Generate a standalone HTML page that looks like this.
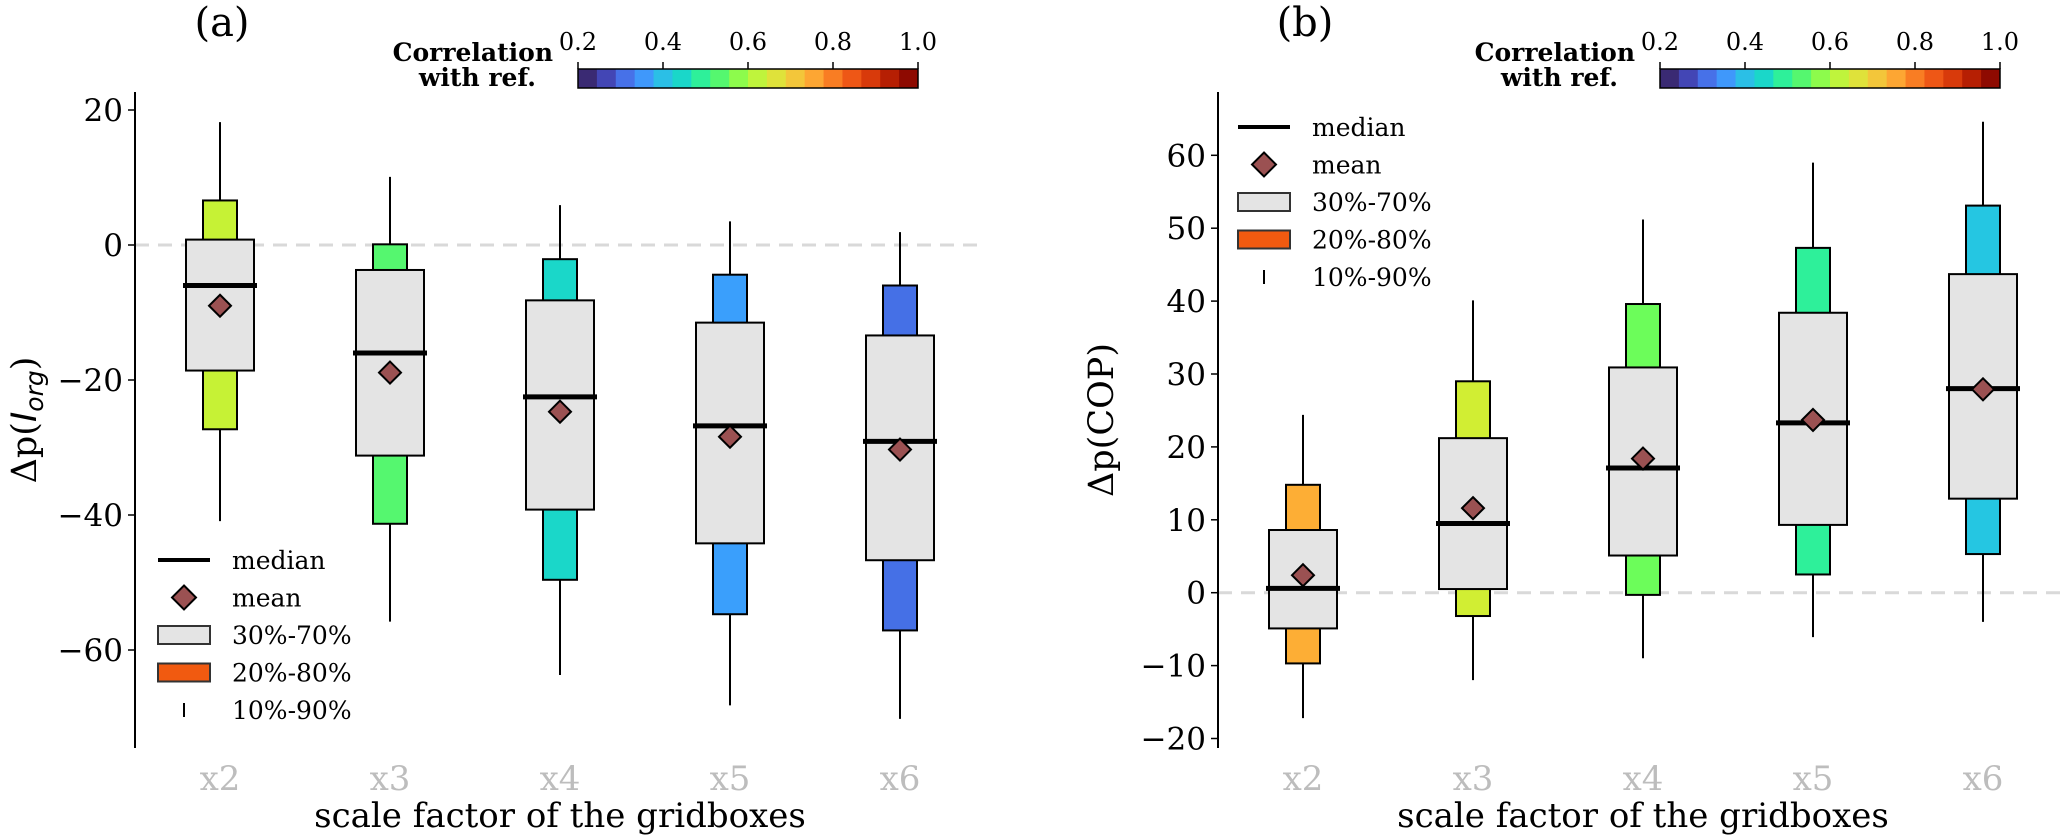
<!DOCTYPE html>
<html><head><meta charset="utf-8">
<style>
html,body{margin:0;padding:0;background:#fff;}
svg{display:block;font-family:"DejaVu Serif","Liberation Serif",serif;}
</style></head>
<body>
<svg id="chart" width="2067" height="839" viewBox="0 0 2067 839" xmlns="http://www.w3.org/2000/svg"></svg>
<script>
const categories = ["x2","x3","x4","x5","x6"];
// Panel (a): Δp(I_org)
const aWhiskLo = [-40.9,-55.8,-63.7,-68.2,-70.2];
const aOuterLo = [-27.3,-41.3,-49.6,-54.7,-57.1];
const aInnerLo = [-18.6,-31.2,-39.2,-44.2,-46.7];
const aMedian  = [-6.0,-16.0,-22.5,-26.8,-29.1];
const aMean    = [-9.0,-18.9,-24.7,-28.4,-30.3];
const aInnerHi = [0.8,-3.7,-8.2,-11.5,-13.4];
const aOuterHi = [6.6,0.1,-2.1,-4.4,-6.0];
const aWhiskHi = [18.2,10.1,5.9,3.5,1.9];
const aColors  = ["#c6f235","#55f76f","#1ad7c9","#3a9ffc","#4570e6"];
const aTicks   = [20,0,-20,-40,-60];
// Panel (b): Δp(COP)
const bWhiskLo = [-17.2,-12.0,-9.0,-6.1,-4.0];
const bOuterLo = [-9.7,-3.2,-0.3,2.5,5.3];
const bInnerLo = [-4.9,0.5,5.1,9.3,12.9];
const bMedian  = [0.6,9.5,17.1,23.3,28.0];
const bMean    = [2.4,11.6,18.4,23.7,27.9];
const bInnerHi = [8.6,21.2,30.9,38.4,43.7];
const bOuterHi = [14.8,29.0,39.6,47.3,53.1];
const bWhiskHi = [24.4,40.1,51.2,59.0,64.6];
const bColors  = ["#fdae35","#d1ee33","#6cfd5a","#2ef09a","#25c6e2"];
const bTicks   = [60,50,40,30,20,10,0,-10,-20];
const cbColors = ["#3a2a73","#4346b5","#4771e8","#3f98fb","#2bbfe6","#1ad7c9","#2ef09a","#55f76f","#8dfb4c","#bff43c","#dfe23a","#f3c63a","#fda633","#f97d23","#ee5716","#d83a0b","#b61f03","#8e0a01"];
const cbTicks  = ["0.2","0.4","0.6","0.8","1.0"];

const NS="http://www.w3.org/2000/svg";
const svg=document.getElementById('chart');
function mk(tag,attrs,parent){const e=document.createElementNS(NS,tag);for(const k in attrs)e.setAttribute(k,attrs[k]);(parent||svg).appendChild(e);return e;}

function panel(o){
  const g=mk('g',{});
  
  
  const y=v=>o.y0-v*o.ppu;
  const x=i=>o.axX+85+i*170;
  const zl=mk('line',{x1:o.axX,x2:o.axX+850,y1:y(0),y2:y(0),stroke:'#d9d9d9','stroke-width':3,'stroke-dasharray':'14,9'},g);
  
  
  const ax=mk('line',{x1:o.axX,x2:o.axX,y1:92,y2:748,stroke:'#000','stroke-width':2},g);
  
  
  o.ticks.forEach(t=>{
    mk('line',{x1:o.axX-7,x2:o.axX,y1:y(t),y2:y(t),stroke:'#000','stroke-width':1.5},g);
    const tx=mk('text',{x:o.axX-12,y:y(t)+11,'text-anchor':'end','font-size':31,fill:'#000'},g);
    tx.textContent=(t<0?'\u2212'+(-t):String(t));
    
    
  });
  categories.forEach((c,i)=>{
    const cx=x(i);
    const w1=mk('line',{x1:cx,x2:cx,y1:y(o.wh[i]),y2:y(o.wl[i]),stroke:'#000','stroke-width':2},g);
    
    
    const ob=mk('rect',{x:cx-17,y:y(o.oh[i]),width:34,height:y(o.ol[i])-y(o.oh[i]),fill:o.colors[i],stroke:'#000','stroke-width':2},g);
    
    
    const ib=mk('rect',{x:cx-34,y:y(o.ih[i]),width:68,height:y(o.il[i])-y(o.ih[i]),fill:'#e4e4e4',stroke:'#000','stroke-width':2},g);
    
    
    const md=mk('line',{x1:cx-37,x2:cx+37,y1:y(o.med[i]),y2:y(o.med[i]),stroke:'#000','stroke-width':5},g);
    
    
    const my=y(o.mean[i]);
    const mn=mk('polygon',{points:`${cx},${my-11} ${cx+11},${my} ${cx},${my+11} ${cx-11},${my}`,fill:'#9b5152',stroke:'#000','stroke-width':2},g);
    
    
    const xl=mk('text',{x:cx,y:790,'text-anchor':'middle','font-size':34,fill:'#bdbdbd'},g);
    xl.textContent=c;
    
    
  });
  const xt=mk('text',{x:o.axX+425,y:827,'text-anchor':'middle','font-size':34,fill:'#000'},g);
  xt.textContent='scale factor of the gridboxes';
  
  
  const lg=mk('g',{},g);
  
  
  const lx=o.legX, ly=o.legY, sp=37.5;
  mk('line',{x1:lx,x2:lx+52,y1:ly,y2:ly,stroke:'#000','stroke-width':4},lg);
  mk('polygon',{points:`${lx+26},${ly+sp-12} ${lx+38},${ly+sp} ${lx+26},${ly+sp+12} ${lx+14},${ly+sp}`,fill:'#9b5152',stroke:'#000','stroke-width':2},lg);
  mk('rect',{x:lx,y:ly+2*sp-9,width:52,height:18,fill:'#e4e4e4',stroke:'#333','stroke-width':2},lg);
  mk('rect',{x:lx,y:ly+3*sp-9,width:52,height:18,fill:'#f15a10',stroke:'#333','stroke-width':2},lg);
  mk('line',{x1:lx+26,x2:lx+26,y1:ly+4*sp-7,y2:ly+4*sp+7,stroke:'#000','stroke-width':2},lg);
  ['median','mean','30%-70%','20%-80%','10%-90%'].forEach((s,k)=>{
    const t=mk('text',{x:lx+74,y:ly+k*sp+9,'font-size':25,fill:'#000'},lg);
    t.textContent=s;
    
    
  });
  const yl=mk('text',{x:0,y:0,'text-anchor':'middle','font-size':35,fill:'#000',transform:`translate(${o.ylX},420) rotate(-90)`},g);
  yl.innerHTML=o.ylabel;
  
  
  const pt=mk('text',{x:o.tagX,y:36,'text-anchor':'middle','font-size':40,fill:'#000'},g);
  pt.textContent=o.tag;
  
  
  const cb=mk('g',{},g);
  
  
  const cw=340/cbColors.length;
  cbColors.forEach((c,k)=>mk('rect',{x:o.cbX+k*cw,y:69,width:cw+0.5,height:19,fill:c},cb));
  mk('rect',{x:o.cbX,y:69,width:340,height:19,fill:'none',stroke:'#000','stroke-width':1.5},cb);
  cbTicks.forEach((t,k)=>{
    const tx0=o.cbX+k*85;
    mk('line',{x1:tx0,x2:tx0,y1:62,y2:69,stroke:'#000','stroke-width':1.5},cb);
    const tt=mk('text',{x:tx0,y:50,'text-anchor':'middle','font-size':24,fill:'#000'},cb);
    tt.textContent=t;
  });
  const c1=mk('text',{x:o.cbX-25,y:61,'text-anchor':'end','font-size':25,'font-weight':'bold',fill:'#000'},cb);
  c1.textContent='Correlation';
  const c2=mk('text',{x:o.cbX-42,y:86,'text-anchor':'end','font-size':25,'font-weight':'bold',fill:'#000'},cb);
  c2.textContent='with ref.';
}

panel({name:'panel-a',axX:135,y0:245,ppu:6.75,ticks:aTicks,wl:aWhiskLo,ol:aOuterLo,il:aInnerLo,med:aMedian,mean:aMean,ih:aInnerHi,oh:aOuterHi,wh:aWhiskHi,colors:aColors,legX:158,legY:560,ylX:36,ylabel:'Δp(<tspan font-family="DejaVu Sans, Liberation Sans, sans-serif" font-style="italic">I</tspan><tspan font-family="DejaVu Sans, Liberation Sans, sans-serif" font-style="italic" font-size="25" dy="7">org</tspan><tspan dy="-7">)</tspan>',tag:'(a)',tagX:222,cbX:578});
panel({name:'panel-b',axX:1218,y0:592.7,ppu:7.29,ticks:bTicks,wl:bWhiskLo,ol:bOuterLo,il:bInnerLo,med:bMedian,mean:bMean,ih:bInnerHi,oh:bOuterHi,wh:bWhiskHi,colors:bColors,legX:1238,legY:127,ylX:1113,ylabel:'Δp(COP)',tag:'(b)',tagX:1305,cbX:1660});
</script>
</body></html>
